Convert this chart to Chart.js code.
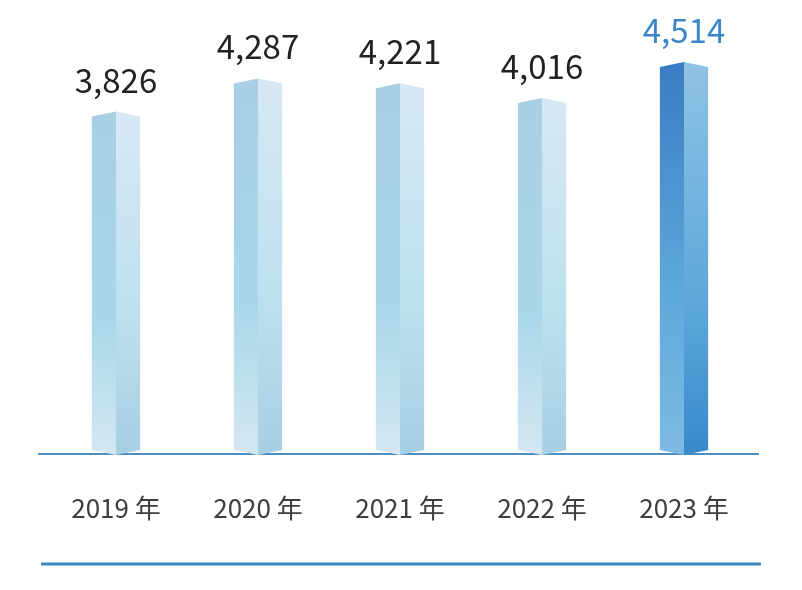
<!DOCTYPE html>
<html>
<head>
<meta charset="utf-8">
<script src="https://cdn.jsdelivr.net/npm/chart.js@4"></script>
<style>
  html, body { margin: 0; padding: 0; background: #fff; }
  #wrap { width: 802px; height: 590px; }
</style>
</head>
<body>
<div id="wrap"><canvas id="barChart" width="802" height="590"></canvas></div>
<script>
// Chart data
const years = ['2019 年', '2020 年', '2021 年', '2022 年', '2023 年'];
const values = [3826, 4287, 4221, 4016, 4514];
const valueLabels = ['3,826', '4,287', '4,221', '4,016', '4,514'];

// Axis range (bars rise from the bottom of the value axis)
const yMin = -800;
const yMax = 5000;

const fontFamily = '"Noto Sans CJK SC", "Noto Sans", sans-serif';

// Colours of the two faces: [top, middle, bottom]
const lightLeft = ['#a9cfe5', '#a9d7e9', '#d3e6f1'];
const lightRight = ['#d6e8f3', '#bde0ee', '#a8cfe4'];
const darkLeft = ['#3a7dc4', '#5eaadb', '#7dbae2'];
const darkRight = ['#8ec1e3', '#5fa9da', '#3a89cb'];

function faceGradient(ctx, top, bottom, stops) {
  const g = ctx.createLinearGradient(0, top, 0, bottom);
  g.addColorStop(0, stops[0]);
  g.addColorStop(0.6, stops[1]);
  g.addColorStop(1, stops[2]);
  return g;
}

// Draws each bar as a two-faced prism, plus labels and rule lines
const prismPlugin = {
  id: 'prism',
  afterDatasetsDraw(chart) {
    const ctx = chart.ctx;
    const meta = chart.getDatasetMeta(0);
    const xScale = chart.scales.x;
    const tip = 5;

    ctx.save();

    // baseline
    const baseY = chart.scales.y.getPixelForValue(yMin) + 4;
    ctx.strokeStyle = '#4b8fc3';
    ctx.lineWidth = 2;
    ctx.beginPath();
    ctx.moveTo(38, baseY);
    ctx.lineTo(759, baseY);
    ctx.stroke();

    meta.data.forEach((bar, i) => {
      const { x, y, base, width } = bar.getProps(['x', 'y', 'base', 'width'], true);
      const half = width / 2;
      const last = i === values.length - 1;

      // left face
      ctx.fillStyle = faceGradient(ctx, y, base, last ? darkLeft : lightLeft);
      ctx.beginPath();
      ctx.moveTo(x - half, y);
      ctx.lineTo(x, y - tip);
      ctx.lineTo(x, base + tip);
      ctx.lineTo(x - half, base);
      ctx.closePath();
      ctx.fill();

      // right face
      ctx.fillStyle = faceGradient(ctx, y, base, last ? darkRight : lightRight);
      ctx.beginPath();
      ctx.moveTo(x, y - tip);
      ctx.lineTo(x + half, y);
      ctx.lineTo(x + half, base);
      ctx.lineTo(x, base + tip);
      ctx.closePath();
      ctx.fill();

      // value label
      ctx.font = '400 33px ' + fontFamily;
      ctx.textAlign = 'center';
      ctx.textBaseline = 'alphabetic';
      ctx.fillStyle = last ? '#3a86c6' : '#222222';
      ctx.fillText(valueLabels[i], x, y - tip - 19);

      // category label
      ctx.font = '400 26px ' + fontFamily;
      ctx.fillStyle = '#3d3d3d';
      ctx.fillText(years[i], xScale.getPixelForValue(i), 518);
    });

    // bottom rule
    ctx.strokeStyle = '#3a87c4';
    ctx.lineWidth = 3;
    ctx.beginPath();
    ctx.moveTo(41, 564);
    ctx.lineTo(761, 564);
    ctx.stroke();

    ctx.restore();
  }
};

const ctx = document.getElementById('barChart').getContext('2d');
const chart = new Chart(ctx, {
  type: 'bar',
  data: {
    labels: years,
    datasets: [{
      data: values,
      base: yMin,
      backgroundColor: 'rgba(0,0,0,0)',
      borderWidth: 0,
      barPercentage: 0.34,
      categoryPercentage: 1
    }]
  },
  options: {
    responsive: false,
    animation: false,
    devicePixelRatio: 1,
    layout: { padding: { left: 45, right: 47, top: 32, bottom: 140 } },
    plugins: {
      legend: { display: false },
      tooltip: { enabled: false }
    },
    scales: {
      x: { display: false },
      y: { display: false, min: yMin, max: yMax }
    }
  },
  plugins: [prismPlugin]
});
</script>
</body>
</html>
